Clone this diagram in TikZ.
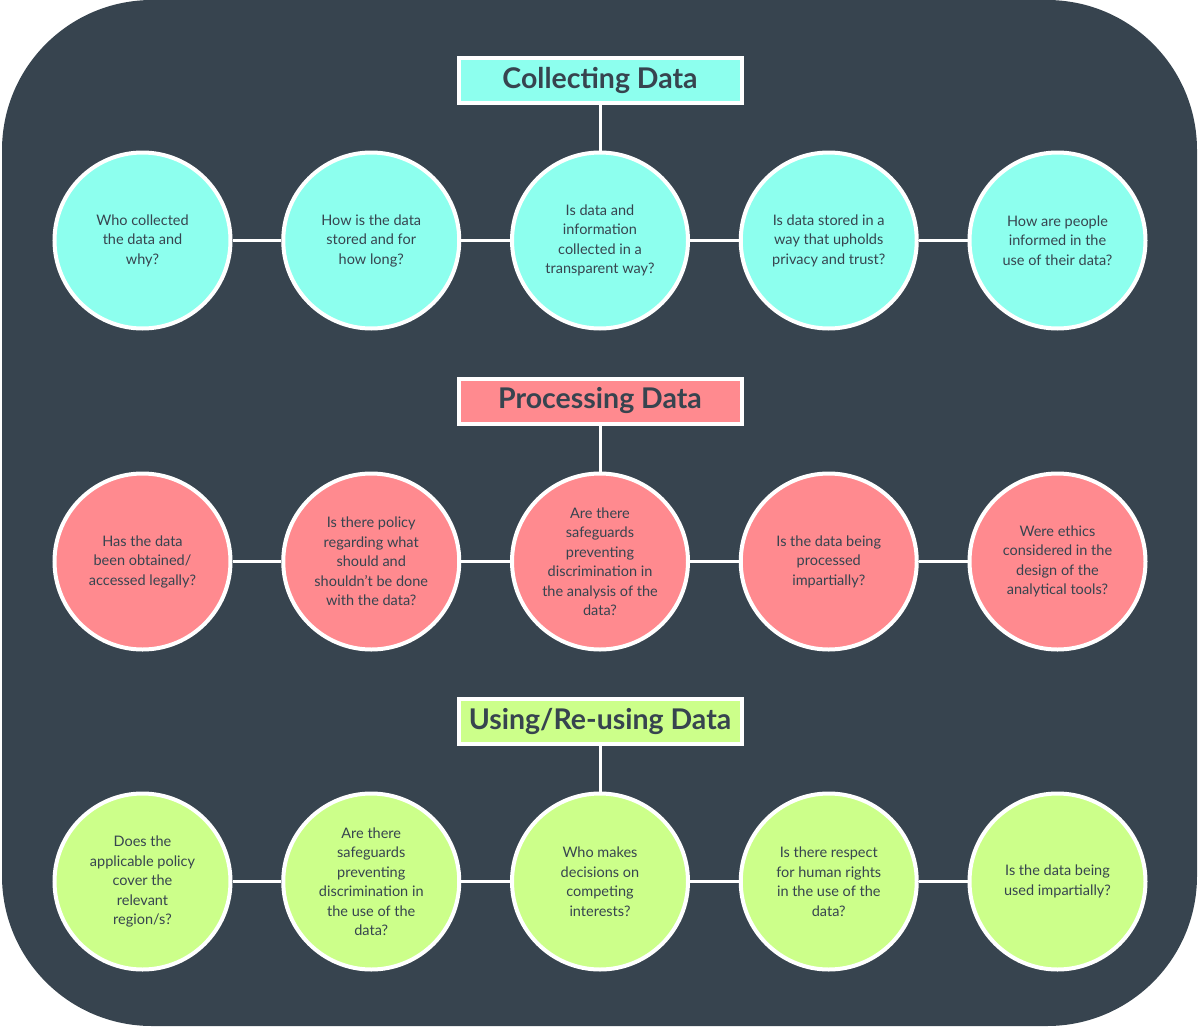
\documentclass[tikz,border=0pt]{standalone}
\usepackage{fontspec}
\setmainfont{Lato}
\usetikzlibrary{positioning}
\definecolor{dataSlate}{HTML}{37444F}
\definecolor{dataCyan}{HTML}{8DFFEE}
\definecolor{dataPink}{HTML}{FF8A8F}
\definecolor{dataLime}{HTML}{CCFF8A}

\begin{document}
\begin{tikzpicture}[x=1pt,y=1pt,
   stage/.style={draw=white,line width=4pt,minimum width=283pt,minimum height=45pt,
                 inner sep=0pt,text=dataSlate,font=\fontsize{28.5}{32}\selectfont\bfseries},
   ask/.style={circle,draw=white,line width=4pt,minimum size=176pt,inner sep=0pt,
               align=center,text=dataSlate,font=\fontsize{14.5}{19.5}\selectfont},
   link/.style={draw=white,line width=3pt},
   node distance=48.75pt]
  \useasboundingbox (0,0) rectangle (1200,-1028);
  \fill[dataSlate,rounded corners=150pt] (2,0) rectangle (1197,-1026);

  % collecting
  \node[stage,fill=dataCyan] (t1) at (600,-80) {Collecting Data};
  \node[ask,fill=dataCyan,below=46pt of t1] (c13) {Is data and\\information\\collected in a\\transparent way?};
  \node[ask,fill=dataCyan,left=of c13] (c12) {How is the data\\stored and for\\how long?};
  \node[ask,fill=dataCyan,left=of c12] (c11) {Who collected\\the data and\\why?};
  \node[ask,fill=dataCyan,right=of c13] (c14) {Is data stored in a\\way that upholds\\privacy and trust?};
  \node[ask,fill=dataCyan,right=of c14] (c15) {How are people\\informed in the\\use of their data?};
  \draw[link] (t1) -- (c13);
  \draw[link] (c11) -- (c12);
  \draw[link] (c12) -- (c13);
  \draw[link] (c13) -- (c14);
  \draw[link] (c14) -- (c15);

  % processing
  \node[stage,fill=dataPink] (t2) at (600,-401) {Processing Data};
  \node[ask,fill=dataPink,below=46pt of t2] (c23) {Are there\\safeguards\\preventing\\discrimination in\\the analysis of the\\data?};
  \node[ask,fill=dataPink,left=of c23] (c22) {Is there policy\\regarding what\\should and\\shouldn't be done\\with the data?};
  \node[ask,fill=dataPink,left=of c22] (c21) {Has the data\\been obtained/\\accessed legally?};
  \node[ask,fill=dataPink,right=of c23] (c24) {Is the data being\\processed\\impartially?};
  \node[ask,fill=dataPink,right=of c24] (c25) {Were ethics\\considered in the\\design of the\\analytical tools?};
  \draw[link] (t2) -- (c23);
  \draw[link] (c21) -- (c22);
  \draw[link] (c22) -- (c23);
  \draw[link] (c23) -- (c24);
  \draw[link] (c24) -- (c25);

  % using / re-using
  \node[stage,fill=dataLime] (t3) at (600,-721) {Using/Re-using Data};
  \node[ask,fill=dataLime,below=46pt of t3] (c33) {Who makes\\decisions on\\competing\\interests?};
  \node[ask,fill=dataLime,left=of c33] (c32) {Are there\\safeguards\\preventing\\discrimination in\\the use of the\\data?};
  \node[ask,fill=dataLime,left=of c32] (c31) {Does the\\applicable policy\\cover the\\relevant\\region/s?};
  \node[ask,fill=dataLime,right=of c33] (c34) {Is there respect\\for human rights\\in the use of the\\data?};
  \node[ask,fill=dataLime,right=of c34] (c35) {Is the data being\\used impartially?};
  \draw[link] (t3) -- (c33);
  \draw[link] (c31) -- (c32);
  \draw[link] (c32) -- (c33);
  \draw[link] (c33) -- (c34);
  \draw[link] (c34) -- (c35);
\end{tikzpicture}
\end{document}
